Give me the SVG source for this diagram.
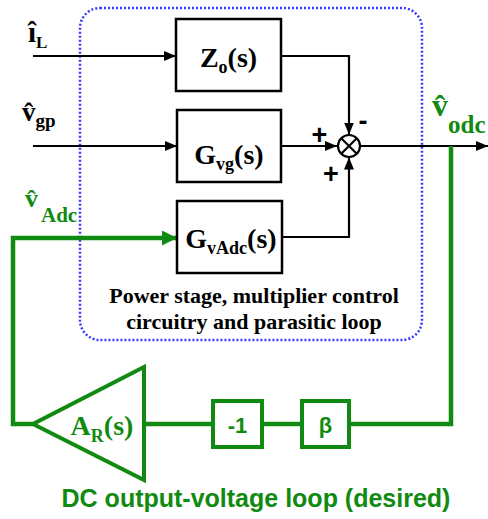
<svg xmlns="http://www.w3.org/2000/svg" width="488" height="519" viewBox="0 0 488 519">
<style>
.blk{fill:#fff;stroke:#000;stroke-width:2.5}
.gbx{fill:#fff;stroke:#108a10;stroke-width:4}
.wire{fill:none;stroke:#000;stroke-width:2.2}
.gwire{fill:none;stroke:#108a10;stroke-width:4.5}
.ser{font-family:"Liberation Serif","Times New Roman",serif;font-weight:bold}
.san{font-family:"Liberation Sans",Arial,sans-serif;font-weight:bold}
.g{fill:#108a10}
.k{fill:#000}
</style>
<defs>
<marker id="ah" markerWidth="12" markerHeight="10" refX="12" refY="5" orient="auto" markerUnits="userSpaceOnUse">
<path d="M0,0 L12,5 L0,10 Z" fill="#000"/>
</marker>
<marker id="gah" markerWidth="15" markerHeight="15" refX="15" refY="7.5" orient="auto" markerUnits="userSpaceOnUse">
<path d="M0,0 L15,7.5 L0,15 Z" fill="#108a10"/>
</marker>
</defs>

<g id="region">
<rect x="80" y="8" width="342" height="332" rx="20" ry="20" fill="none" stroke="#3a3aff" stroke-width="2.5" stroke-dasharray="2 2"/>
<text class="ser k" font-size="22" x="254" y="303" text-anchor="middle">Power stage, multiplier control</text>
<text class="ser k" font-size="22" x="254" y="329" text-anchor="middle">circuitry and parasitic loop</text>
</g>

<g id="connectors">
<path class="wire" d="M33,56 H176" marker-end="url(#ah)"/>
<path class="wire" d="M33,146 H177" marker-end="url(#ah)"/>
<path class="wire" d="M281,56 H349 V134.5" marker-end="url(#ah)"/>
<path class="wire" d="M281,146 H337" marker-end="url(#ah)"/>
<path class="wire" d="M283,237 H349 V157.5" marker-end="url(#ah)"/>
<path class="wire" d="M360.5,146 H488" marker-end="url(#ah)"/>
<path class="gwire" d="M451,146 V424 H349"/>
<path class="gwire" d="M302,424 H262"/>
<path class="gwire" d="M213,424 H144"/>
<path class="gwire" d="M33,424 H13 V238 H177" marker-end="url(#gah)"/>
</g>

<g id="iL">
<text class="ser k" font-size="29" x="28" y="42">i&#x302;<tspan font-size="17" dy="6">L</tspan></text>
</g>

<g id="vgp">
<text class="ser k" font-size="27" x="22" y="121">v&#x302;<tspan font-size="19" dy="6">gp</tspan></text>
</g>

<g id="vAdc">
<text class="ser g" font-size="26" x="25" y="207">v&#x302;<tspan font-size="21" dx="3" dy="15">Adc</tspan></text>
</g>

<g id="vodc">
<text class="ser g" font-size="32" x="432" y="116">v&#x302;<tspan font-size="25" dy="17">odc</tspan></text>
</g>

<g id="Zo">
<rect class="blk" x="176" y="19" width="105" height="72"/>
<text class="ser k" font-size="28" x="228.5" y="67" text-anchor="middle">Z<tspan font-size="18" dy="6">o</tspan><tspan dy="-6">(s)</tspan></text>
</g>

<g id="Gvg">
<rect class="blk" x="177" y="110" width="104" height="72"/>
<text class="ser k" font-size="28" x="229" y="164" text-anchor="middle">G<tspan font-size="18" dy="6">vg</tspan><tspan dy="-6">(s)</tspan></text>
</g>

<g id="GvAdc">
<rect class="blk" x="177" y="201" width="105" height="72"/>
<text class="ser k" font-size="28" x="231" y="248" text-anchor="middle">G<tspan font-size="18" dy="6">vAdc</tspan><tspan dy="-6">(s)</tspan></text>
</g>

<g id="sum">
<circle cx="349" cy="146" r="11" fill="#fff" stroke="#000" stroke-width="2.2"/>
<path d="M341.2,138.2 L356.8,153.8 M356.8,138.2 L341.2,153.8" stroke="#000" stroke-width="2.2"/>
<text class="san k" font-size="27" x="363" y="130" text-anchor="middle">-</text>
<text class="san k" font-size="27" x="319.5" y="143.5" text-anchor="middle">+</text>
<text class="san k" font-size="27" x="331" y="182.5" text-anchor="middle">+</text>
</g>

<g id="beta">
<rect class="gbx" x="302" y="401" width="47" height="46"/>
<text class="san g" font-size="22" x="325.5" y="433" text-anchor="middle">β</text>
</g>

<g id="neg1">
<rect class="gbx" x="213" y="401" width="49" height="46"/>
<text class="san g" font-size="22" x="237.5" y="433" text-anchor="middle">-1</text>
</g>

<g id="AR">
<path d="M144,367 L144,480 L33,424 Z" fill="#fff" stroke="#108a10" stroke-width="4" stroke-linejoin="miter"/>
<text class="ser g" font-size="28" x="102" y="435" text-anchor="middle">A<tspan font-size="18" dy="7">R</tspan><tspan dy="-7">(s)</tspan></text>
</g>

<g id="caption">
<text class="san g" font-size="25" x="256" y="507" text-anchor="middle">DC output-voltage loop (desired)</text>
</g>
</svg>
